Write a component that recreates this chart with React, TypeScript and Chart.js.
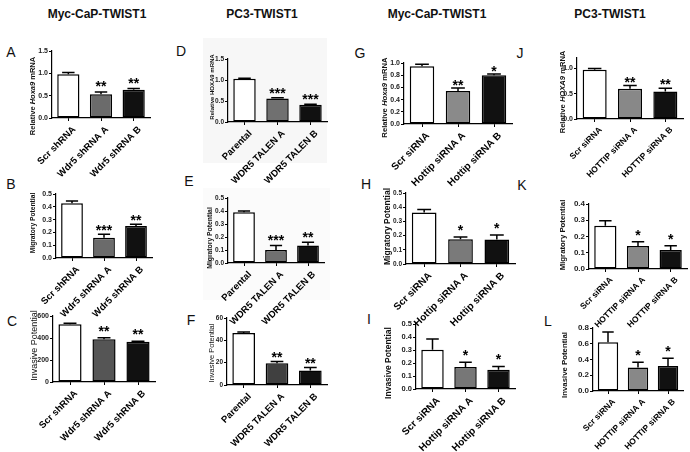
import React, { useEffect, useRef } from 'react';
import { Chart, registerables } from 'chart.js';
Chart.register(...registerables);

const W = 690;
const H = 452;
const FONT = '"Liberation Sans", Arial, Helvetica, sans-serif';

// ---------- data ----------
const catsA = ['Scr shRNA', 'Wdr5 shRNA A', 'Wdr5 shRNA B'];
const catsD = ['Parental', 'WDR5 TALEN A', 'WDR5 TALEN B'];
const catsG = ['Scr siRNA', 'Hottip siRNA A', 'Hottip siRNA B'];
const catsJ = ['Scr siRNA', 'HOTTIP siRNA A', 'HOTTIP siRNA B'];

const meanA = [0.98, 0.53, 0.63];
const semA = [0.04, 0.05, 0.03];
const starsA = ['', '**', '**'];
const ticksA = [0, 0.5, 1.0, 1.5];

const meanB = [0.427, 0.159, 0.25];
const semB = [0.018, 0.026, 0.013];
const starsB = ['', '***', '**'];
const ticksB = [0, 0.1, 0.2, 0.3, 0.4, 0.5];

const meanC = [525, 388, 366];
const semC = [10, 14, 4];
const starsC = ['', '**', '**'];
const ticksC = [0, 200, 400, 600];

const meanD = [1.03, 0.56, 0.41];
const semD = [0.01, 0.02, 0.01];
const starsD = ['', '***', '***'];
const ticksD = [0, 0.5, 1.0, 1.5];

const meanE = [0.39, 0.1, 0.135];
const semE = [0.01, 0.035, 0.025];
const starsE = ['', '***', '**'];
const ticksE = [0, 0.1, 0.2, 0.3, 0.4, 0.5];

const meanF = [46.5, 19.5, 13];
const semF = [1, 1.5, 2.6];
const starsF = ['', '**', '**'];
const ticksF = [0, 20, 40, 60];

const meanG = [0.945, 0.54, 0.8];
const semG = [0.035, 0.05, 0.02];
const starsG = ['', '**', '*'];
const ticksG = [0, 0.2, 0.4, 0.6, 0.8, 1.0];

const meanH = [0.362, 0.175, 0.173];
const semH = [0.021, 0.015, 0.032];
const starsH = ['', '*', '*'];
const ticksH = [0, 0.1, 0.2, 0.3, 0.4, 0.5];

const meanI = [0.302, 0.169, 0.148];
const semI = [0.083, 0.036, 0.026];
const starsI = ['', '*', '*'];
const ticksI = [0, 0.1, 0.2, 0.3, 0.4, 0.5];

const meanJ = [0.967, 0.594, 0.54];
const semJ = [0.028, 0.064, 0.065];
const starsJ = ['', '**', '**'];
const ticksJ = [0, 0.5, 1.0];

const meanK = [0.266, 0.142, 0.117];
const semK = [0.031, 0.026, 0.026];
const starsK = ['', '*', '*'];
const ticksK = [0, 0.1, 0.2, 0.3, 0.4];

const meanL = [0.62, 0.3, 0.317];
const semL = [0.13, 0.065, 0.1];
const starsL = ['', '*', '*'];
const ticksL = [0, 0.2, 0.4, 0.6, 0.8];

const columnTitles = ['Myc-CaP-TWIST1', 'PC3-TWIST1', 'Myc-CaP-TWIST1', 'PC3-TWIST1'];

// ---------- layout / style ----------
type Part = [string, boolean];
type PanelCfg = {
  letter: string; lx: number; ly: number;
  cats: string[]; mean: number[]; sem: number[]; stars: string[]; yTicks: number[]; yMax: number; dec: number;
  colors: string[];
  plot: [number, number, number, number];
  title: { parts: Part[]; x: number; cy: number; size: number; bold: boolean };
  xFont: number; yFont: number; starGap: number; starSize: number;
};

const rel = (g: string): Part[] => [['Relative ', false], [g, true], [' mRNA', false]];
const plain = (s: string): Part[] => [[s, false]];

const panels: PanelCfg[] = [
  { letter: 'A', lx: 11, ly: 52, cats: catsA, mean: meanA, sem: semA, stars: starsA, yTicks: ticksA, yMax: 1.5, dec: 1,
    colors: ['#ffffff', '#6b6b6b', '#111111'], plot: [52, 51, 150, 118],
    title: { parts: rel('Hoxa9'), x: 33, cy: 96, size: 7.5, bold: true }, xFont: 9.5, yFont: 7, starGap: 9, starSize: 14 },
  { letter: 'B', lx: 11, ly: 184, cats: catsA, mean: meanB, sem: semB, stars: starsB, yTicks: ticksB, yMax: 0.5, dec: 1,
    colors: ['#ffffff', '#6b6b6b', '#111111'], plot: [56, 194, 152, 258],
    title: { parts: plain('Migratory Potential'), x: 33, cy: 223, size: 6.7, bold: true }, xFont: 9.5, yFont: 7, starGap: 7, starSize: 14 },
  { letter: 'C', lx: 12, ly: 321, cats: catsA, mean: meanC, sem: semC, stars: starsC, yTicks: ticksC, yMax: 600, dec: 0,
    colors: ['#ffffff', '#555555', '#111111'], plot: [53, 316, 155, 382],
    title: { parts: plain('Invasive Potential'), x: 35, cy: 345.5, size: 9, bold: false }, xFont: 9.5, yFont: 7, starGap: 10, starSize: 14 },
  { letter: 'D', lx: 181, ly: 51, cats: catsD, mean: meanD, sem: semD, stars: starsD, yTicks: ticksD, yMax: 1.5, dec: 1,
    colors: ['#ffffff', '#707070', '#111111'], plot: [228, 59, 327, 122],
    title: { parts: plain('Relative HOXA9 mRNA'), x: 212, cy: 87, size: 6, bold: true }, xFont: 9.5, yFont: 6.5, starGap: 8, starSize: 14 },
  { letter: 'E', lx: 189, ly: 181, cats: catsD, mean: meanE, sem: semE, stars: starsE, yTicks: ticksE, yMax: 0.5, dec: 1,
    colors: ['#ffffff', '#707070', '#111111'], plot: [228, 198, 324, 263],
    title: { parts: plain('Migratory Potential'), x: 210, cy: 238, size: 6.8, bold: true }, xFont: 9.5, yFont: 6.5, starGap: 8, starSize: 14 },
  { letter: 'F', lx: 191, ly: 320, cats: catsD, mean: meanF, sem: semF, stars: starsF, yTicks: ticksF, yMax: 60, dec: 0,
    colors: ['#ffffff', '#404040', '#111111'], plot: [227, 318, 327, 385],
    title: { parts: plain('Invasive Potential'), x: 212, cy: 353, size: 7.5, bold: false }, xFont: 9.5, yFont: 6.5, starGap: 7.5, starSize: 14 },
  { letter: 'G', lx: 360, ly: 53, cats: catsG, mean: meanG, sem: semG, stars: starsG, yTicks: ticksG, yMax: 1.0, dec: 1,
    colors: ['#ffffff', '#8a8a8a', '#111111'], plot: [404, 63, 512, 124],
    title: { parts: rel('Hoxa9'), x: 385, cy: 97.5, size: 7.7, bold: true }, xFont: 10, yFont: 7, starGap: 6, starSize: 14 },
  { letter: 'H', lx: 366, ly: 184, cats: catsG, mean: meanH, sem: semH, stars: starsH, yTicks: ticksH, yMax: 0.5, dec: 1,
    colors: ['#ffffff', '#7a7a7a', '#111111'], plot: [406, 193, 515, 264],
    title: { parts: plain('Migratory Potential'), x: 388, cy: 226.5, size: 8.5, bold: true }, xFont: 10, yFont: 6.5, starGap: 10, starSize: 14 },
  { letter: 'I', lx: 369, ly: 319, cats: catsG, mean: meanI, sem: semI, stars: starsI, yTicks: ticksI, yMax: 0.5, dec: 1,
    colors: ['#ffffff', '#777777', '#111111'], plot: [416, 324, 515, 389],
    title: { parts: plain('Invasive Potential'), x: 389, cy: 363, size: 8.5, bold: true }, xFont: 10, yFont: 7.5, starGap: 10, starSize: 14 },
  { letter: 'J', lx: 520, ly: 53, cats: catsJ, mean: meanJ, sem: semJ, stars: starsJ, yTicks: ticksJ, yMax: 1.2, dec: 1,
    colors: ['#ffffff', '#888888', '#111111'], plot: [577, 58, 683, 119],
    title: { parts: rel('HOXA9'), x: 563, cy: 92, size: 7.6, bold: true }, xFont: 8.5, yFont: 7, starGap: 7, starSize: 14 },
  { letter: 'K', lx: 522, ly: 185, cats: catsJ, mean: meanK, sem: semK, stars: starsK, yTicks: ticksK, yMax: 0.4, dec: 1,
    colors: ['#ffffff', '#888888', '#111111'], plot: [589, 204, 687, 269],
    title: { parts: plain('Migratory Potential'), x: 563, cy: 235, size: 7.8, bold: true }, xFont: 8.5, yFont: 8, starGap: 10, starSize: 14 },
  { letter: 'L', lx: 548, ly: 321, cats: catsJ, mean: meanL, sem: semL, stars: starsL, yTicks: ticksL, yMax: 0.8, dec: 1,
    colors: ['#ffffff', '#888888', '#111111'], plot: [593, 328, 683, 391],
    title: { parts: plain('Invasive Potential'), x: 565, cy: 365, size: 7.8, bold: true }, xFont: 8.5, yFont: 8, starGap: 10.5, starSize: 14 },
];

const Y_W = 40;
const X_H = 70;

const yTitlePlugin = {
  id: 'yTitleParts',
  afterDraw(chart: any, _args: any, opts: any) {
    const ctx = chart.ctx;
    ctx.save();
    ctx.translate(opts.x, opts.cy);
    ctx.rotate(-Math.PI / 2);
    const f = (it: boolean) => `${it ? 'italic ' : ''}${opts.bold ? 'bold ' : ''}${opts.size}px ${FONT}`;
    let total = 0;
    for (const p of opts.parts) { ctx.font = f(p[1]); total += ctx.measureText(p[0]).width; }
    let x = -total / 2;
    ctx.textBaseline = 'middle';
    ctx.textAlign = 'left';
    ctx.fillStyle = '#111';
    for (const p of opts.parts) { ctx.font = f(p[1]); ctx.fillText(p[0], x, 0); x += ctx.measureText(p[0]).width; }
    ctx.restore();
  },
};

const errPlugin = {
  id: 'errStars',
  afterDatasetsDraw(chart: any, _args: any, opts: any) {
    const ctx = chart.ctx;
    const meta = chart.getDatasetMeta(0);
    const ys = chart.scales.y;
    const data = chart.data.datasets[0].data;
    meta.data.forEach((bar: any, i: number) => {
      const v = data[i];
      const yT = ys.getPixelForValue(v + opts.sem[i]);
      const yB = ys.getPixelForValue(v);
      const cap = bar.width * 0.28;
      ctx.save();
      ctx.strokeStyle = '#000';
      ctx.lineWidth = 1.5;
      ctx.beginPath();
      ctx.moveTo(bar.x, yB);
      ctx.lineTo(bar.x, yT);
      ctx.moveTo(bar.x - cap, yT);
      ctx.lineTo(bar.x + cap, yT);
      ctx.stroke();
      const s = opts.stars[i];
      if (s) {
        ctx.font = `bold ${opts.starSize}px ${FONT}`;
        ctx.textAlign = 'center';
        ctx.textBaseline = 'alphabetic';
        ctx.fillStyle = '#000';
        const centerY = yT - opts.starGap;
        ctx.fillText(s, bar.x, centerY + opts.starSize * 0.57);
      }
      ctx.restore();
    });
  },
};

function PanelChart({ p }: { p: PanelCfg }) {
  const ref = useRef<HTMLCanvasElement>(null);
  useEffect(() => {
    const [pl, pt, pr, pb] = p.plot;
    const chart = new Chart(ref.current as HTMLCanvasElement, {
      type: 'bar',
      data: {
        labels: p.cats,
        datasets: [{
          data: p.mean,
          backgroundColor: p.colors,
          borderColor: '#000',
          borderWidth: 1.5,
          borderSkipped: false,
          barPercentage: 0.68,
          categoryPercentage: 1,
        }],
      },
      options: {
        animation: false,
        responsive: false,
        events: [],
        layout: { padding: { left: pl - Y_W, top: pt, right: W - pr, bottom: H - pb - X_H } },
        plugins: {
          legend: { display: false },
          tooltip: { enabled: false },
          yTitleParts: p.title,
          errStars: { sem: p.sem, stars: p.stars, starGap: p.starGap, starSize: p.starSize },
        } as any,
        scales: {
          x: {
            offset: true,
            grid: { display: true, drawOnChartArea: false, drawTicks: true, tickLength: 3, color: '#000', offset: false, lineWidth: 1 },
            border: { display: true, color: '#000', width: 1.2 },
            ticks: { autoSkip: false, minRotation: 45, maxRotation: 45, padding: 3, labelOffset: 6, color: '#000', font: { family: FONT, size: p.xFont, weight: 'bold' } },
            afterFit: (s: any) => { s.height = X_H; },
          },
          y: {
            min: 0,
            max: p.yMax,
            grid: { display: true, drawOnChartArea: false, drawTicks: true, tickLength: 3, color: '#000', lineWidth: 1 },
            border: { display: true, color: '#000', width: 1.2 },
            ticks: { padding: 1, color: '#222', font: { family: FONT, size: p.yFont, weight: 'bold' }, callback: (v: any) => Number(v).toFixed(p.dec) },
            afterBuildTicks: (s: any) => { s.ticks = p.yTicks.map((v) => ({ value: v })); },
            afterFit: (s: any) => { s.width = Y_W; },
          },
        } as any,
      },
      plugins: [yTitlePlugin, errPlugin],
    });
    return () => chart.destroy();
  }, [p]);
  return <canvas ref={ref} width={W} height={H} style={{ position: 'absolute', left: 0, top: 0, width: W, height: H }} />;
}

const titleX = [97, 262, 437, 610];

export default function App() {
  return (
    <div style={{ position: 'fixed', left: 0, top: 0, width: W, height: H, background: '#fff', overflow: 'hidden', fontFamily: FONT }}>
      <div style={{ position: 'absolute', left: 203, top: 38, width: 124, height: 125, background: '#f7f7f7' }} />
      <div style={{ position: 'absolute', left: 203, top: 188, width: 127, height: 112, background: '#fbfbfb' }} />
      {columnTitles.map((t, i) => (
        <div key={'t' + i} style={{ position: 'absolute', left: titleX[i], top: 14, transform: 'translate(-50%, -50%)', fontWeight: 'bold', fontSize: 12, whiteSpace: 'nowrap', color: '#111' }}>{t}</div>
      ))}
      {panels.map((p) => (
        <div key={'l' + p.letter} style={{ position: 'absolute', left: p.lx, top: p.ly, transform: 'translate(-50%, -50%)', fontSize: 14, color: '#111' }}>{p.letter}</div>
      ))}
      {panels.map((p) => <PanelChart key={p.letter} p={p} />)}
    </div>
  );
}
